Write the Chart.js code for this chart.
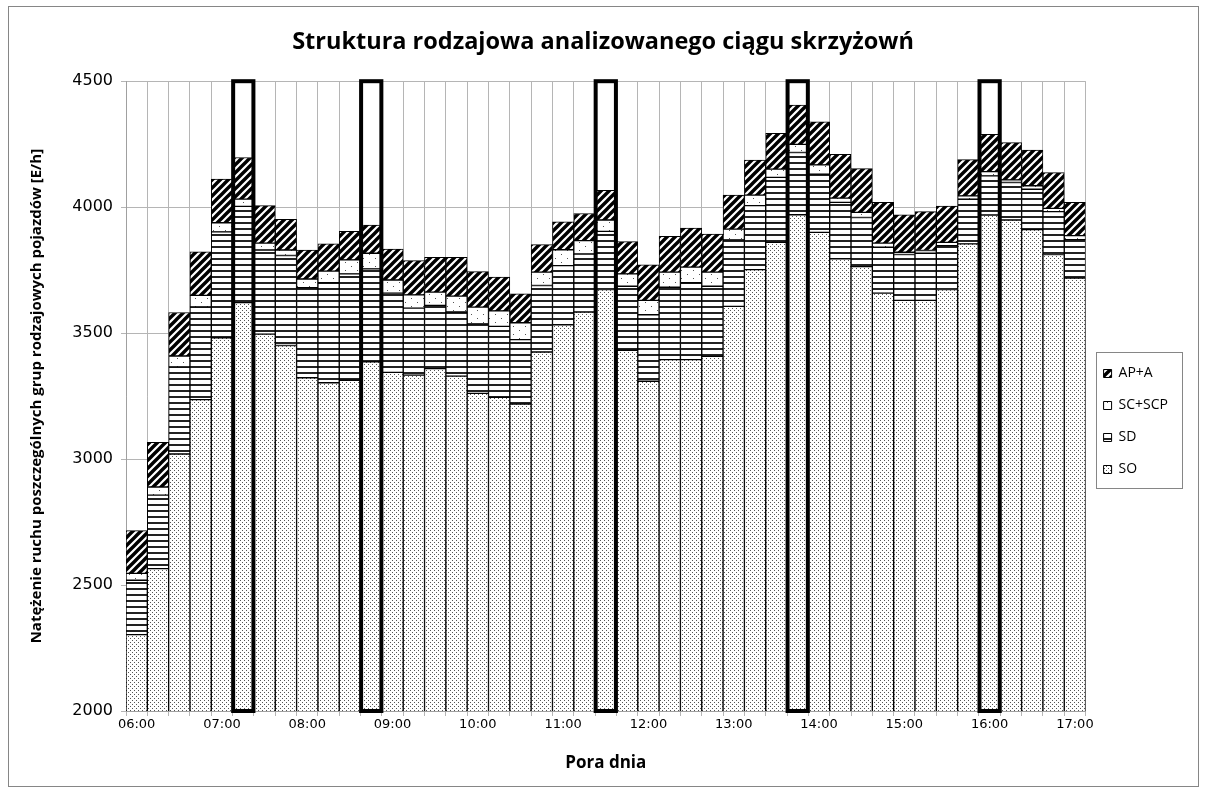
<!DOCTYPE html>
<html>
<head>
<meta charset="utf-8">
<script src="https://cdn.jsdelivr.net/npm/chart.js@4.4.0/dist/chart.umd.min.js"></script>
<style>
  body { margin: 0; background: #fff; }
  canvas { display: block; }
</style>
</head>
<body>
<canvas id="chart" width="1206" height="792"></canvas>
<script>
// 15-minute intervals, 06:00 - 17:00
const times = [
  '06:00', '06:15', '06:30', '06:45', '07:00', '07:15', '07:30', '07:45',
  '08:00', '08:15', '08:30', '08:45', '09:00', '09:15', '09:30', '09:45',
  '10:00', '10:15', '10:30', '10:45', '11:00', '11:15', '11:30', '11:45',
  '12:00', '12:15', '12:30', '12:45', '13:00', '13:15', '13:30', '13:45',
  '14:00', '14:15', '14:30', '14:45', '15:00', '15:15', '15:30', '15:45',
  '16:00', '16:15', '16:30', '16:45', '17:00'
];

// vehicle groups [E/h]
const soValues = [2303, 2565, 3020, 3236, 3481, 3621, 3496, 3451, 3323, 3303, 3313, 3386, 3344, 3333, 3359,
  3329, 3261, 3245, 3218, 3425, 3533, 3584, 3673, 3432, 3309, 3395, 3395, 3408, 3606, 3752,
  3860, 3970, 3900, 3795, 3764, 3659, 3630, 3630, 3673, 3854, 3969, 3949, 3911, 3812, 3718];
const sdValues = [216, 292, 346, 368, 421, 382, 334, 357, 357, 397, 422, 369, 315, 266, 251,
  255, 276, 282, 256, 264, 235, 230, 231, 254, 264, 287, 305, 278, 264, 254,
  258, 247, 231, 224, 195, 182, 182, 187, 174, 178, 155, 149, 160, 170, 153];
const scValues = [27, 32, 43, 46, 36, 29, 27, 22, 35, 46, 56, 62, 52, 53, 53,
  63, 66, 61, 67, 53, 63, 53, 45, 49, 57, 60, 62, 56, 43, 42,
  33, 32, 37, 17, 20, 16, 9, 11, 13, 13, 17, 10, 14, 13, 16];
const apValues = [170, 177, 173, 173, 173, 165, 149, 122, 115, 108, 113, 112, 123, 136, 138,
  154, 141, 134, 115, 109, 111, 108, 118, 128, 141, 142, 155, 151, 135, 139,
  142, 156, 171, 174, 174, 162, 149, 154, 144, 144, 148, 148, 142, 142, 132];

// peak intervals marked with a frame
const highlightTimes = ['07:15', '08:45', '11:30', '13:45', '16:00'];

const yMin = 2000;
const yMax = 4500;
const yStep = 500;

const canvas = document.getElementById('chart');
const ctx = canvas.getContext('2d');

// fill patterns like the Excel ones
function makePattern(w, h, draw) {
  const c = document.createElement('canvas');
  c.width = w;
  c.height = h;
  const g = c.getContext('2d');
  g.fillStyle = '#fff';
  g.fillRect(0, 0, w, h);
  draw(g);
  return ctx.createPattern(c, 'repeat');
}

const soPattern = makePattern(4, 4, g => {
  g.fillStyle = '#555';
  g.fillRect(0, 0, 1, 1);
  g.fillRect(2, 2, 1, 1);
});
const sdPattern = makePattern(6, 6, g => {
  g.fillStyle = '#222';
  g.fillRect(0, 0, 6, 2);
});
const scPattern = makePattern(12, 8, g => {
  g.fillStyle = '#555';
  g.fillRect(3, 2, 1, 1);
  g.fillRect(9, 6, 1, 1);
});
const apPattern = makePattern(8, 8, g => {
  g.strokeStyle = '#000';
  g.lineWidth = 3.4;
  g.beginPath();
  g.moveTo(-4, 4); g.lineTo(4, -4);
  g.moveTo(0, 8); g.lineTo(8, 0);
  g.moveTo(4, 12); g.lineTo(12, 4);
  g.stroke();
});

const barStyle = {
  borderColor: '#000',
  borderWidth: 1,
  borderSkipped: false,
  categoryPercentage: 1,
  barPercentage: 1
};

// chart border, peak frames and legend border
const framePlugin = {
  id: 'frame',
  beforeDraw(chart) {
    const c = chart.ctx;
    c.save();
    c.fillStyle = '#fff';
    c.fillRect(0, 0, chart.width, chart.height);
    c.strokeStyle = '#868686';
    c.lineWidth = 1;
    c.strokeRect(8.5, 6.5, 1190, 780);
    c.restore();
  },
  afterDatasetsDraw(chart) {
    const x = chart.scales.x;
    const y = chart.scales.y;
    const step = x.getPixelForValue(1) - x.getPixelForValue(0);
    const w = step * 0.95;
    const top = y.getPixelForValue(yMax);
    const bottom = y.getPixelForValue(yMin);
    const c = chart.ctx;
    c.save();
    c.strokeStyle = '#000';
    c.lineWidth = 4;
    highlightTimes.forEach(t => {
      const xc = x.getPixelForValue(times.indexOf(t));
      c.strokeRect(xc - w / 2, top, w, bottom - top);
    });
    c.restore();
  },
  afterDraw(chart) {
    const lg = chart.legend;
    if (!lg) return;
    const items = lg.legendHitBoxes;
    if (!items.length) return;
    const first = items[0];
    const last = items[items.length - 1];
    const c = chart.ctx;
    c.save();
    c.strokeStyle = '#868686';
    c.lineWidth = 1;
    let right = 0;
    items.forEach(b => { right = Math.max(right, b.left + b.width); });
    const x0 = Math.round(first.left - 8) + 0.5;
    const y0 = Math.round(first.top + first.height / 2 - 22) + 0.5;
    const x1 = Math.round(right + 14) + 0.5;
    const y1 = Math.round(last.top + last.height / 2 + 18) + 0.5;
    c.strokeRect(x0, y0, x1 - x0, y1 - y0);
    c.restore();
  }
};

new Chart(ctx, {
  type: 'bar',
  data: {
    labels: times,
    datasets: [
      { label: 'SO', data: soValues, backgroundColor: soPattern, ...barStyle },
      { label: 'SD', data: sdValues, backgroundColor: sdPattern, ...barStyle },
      { label: 'SC+SCP', data: scValues, backgroundColor: scPattern, ...barStyle },
      { label: 'AP+A', data: apValues, backgroundColor: apPattern, ...barStyle }
    ]
  },
  options: {
    responsive: false,
    animation: false,
    layout: { padding: { left: 28, right: 28, top: 0, bottom: 19 } },
    plugins: {
      title: {
        display: true,
        text: 'Struktura rodzajowa analizowanego ciągu skrzyżowń',
        color: '#000',
        font: { family: 'Open Sans', size: 23.5, weight: 'bold' },
        padding: { top: 28, bottom: 25 }
      },
      legend: {
        position: 'right',
        reverse: true,
        title: {
          display: true,
          text: '',
          font: { size: 10 },
          padding: { top: 58, bottom: 0 }
        },
        labels: {
          boxWidth: 8,
          boxHeight: 8,
          padding: 18,
          color: '#000',
          font: { family: 'Open Sans', size: 14 }
        }
      },
      tooltip: { enabled: false }
    },
    scales: {
      x: {
        stacked: true,
        offset: true,
        grid: { offset: true, color: '#b5b5b5', tickLength: 5 },
        border: { color: '#a0a0a0' },
        ticks: {
          autoSkip: false,
          maxRotation: 0,
          padding: 1,
          color: '#000',
          font: { family: 'DejaVu Sans', size: 13 },
          callback: function (value, index) {
            return index % 4 === 0 ? this.getLabelForValue(value) : '';
          }
        },
        title: {
          display: true,
          text: 'Pora dnia',
          color: '#000',
          font: { family: 'Open Sans', size: 17, weight: 'bold' },
          padding: { top: 19, bottom: 0 }
        }
      },
      y: {
        stacked: true,
        min: yMin,
        max: yMax,
        afterFit: scale => { scale.width = 98; },
        ticks: {
          stepSize: yStep,
          color: '#000',
          padding: 8,
          font: { family: 'DejaVu Sans', size: 16 },
          callback: value => String(value)
        },
        grid: { color: '#b5b5b5', tickLength: 5 },
        border: { color: '#a0a0a0' },
        title: {
          display: true,
          text: 'Natężenie ruchu poszczególnych grup rodzajowych pojazdów [E/h]',
          color: '#000',
          font: { family: 'Open Sans', size: 15, weight: 'bold' },
          padding: { top: 0, bottom: 8 }
        }
      }
    }
  },
  plugins: [framePlugin]
});
</script>
</body>
</html>
